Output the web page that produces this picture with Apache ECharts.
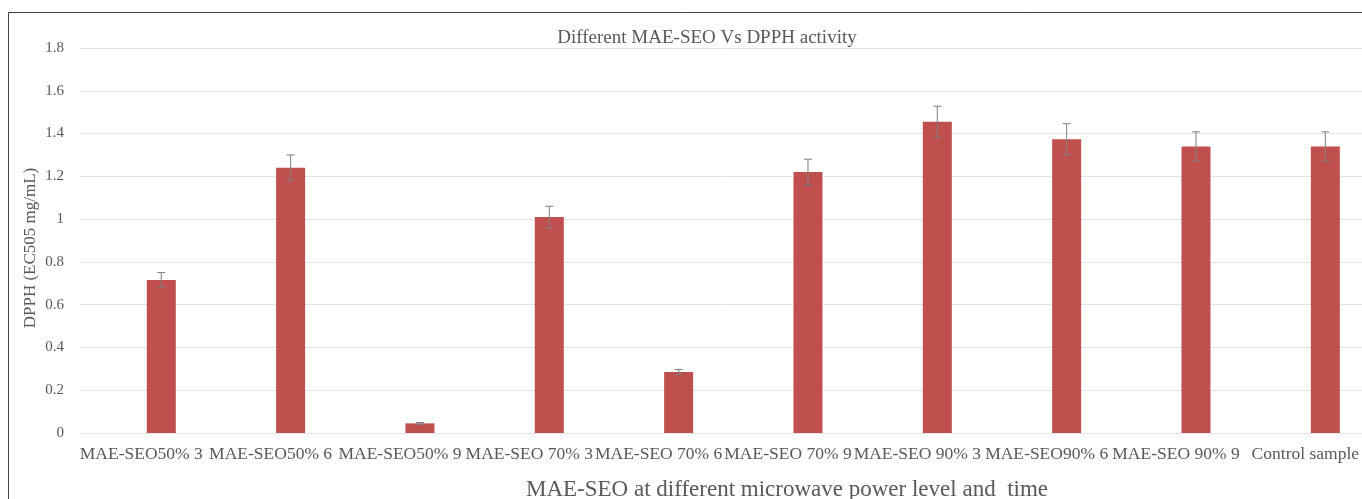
<!DOCTYPE html>
<html>
<head>
<meta charset="utf-8">
<script src="https://cdn.jsdelivr.net/npm/echarts@6/dist/echarts.min.js"></script>
<style>
  html, body { margin: 0; padding: 0; background: #ffffff; }
  #chart { width: 1362px; height: 499px; }
</style>
</head>
<body>
<div id="chart"></div>
<script>
// DPPH activity (EC50, mg/mL) for each extraction condition
const categories = [
  'MAE-SEO50% 3', 'MAE-SEO50% 6', 'MAE-SEO50% 9',
  'MAE-SEO 70% 3', 'MAE-SEO 70% 6', 'MAE-SEO 70% 9',
  'MAE-SEO 90% 3', 'MAE-SEO90% 6', 'MAE-SEO 90% 9', 'Control sample'
];
const dpphValues = [0.715, 1.24, 0.045, 1.01, 0.285, 1.22, 1.455, 1.373, 1.34, 1.34];
const dpphErrors = [0.035, 0.06, 0.004, 0.05, 0.012, 0.06, 0.073, 0.073, 0.068, 0.068];
const yTicks = { min: 0, max: 1.8, interval: 0.2 };

const titleText = 'Different MAE-SEO Vs DPPH activity';
const xTitle = 'MAE-SEO at different microwave power level and  time';
const yTitle = 'DPPH (EC505 mg/mL)';

const serif = '"Liberation Serif", "Times New Roman", serif';
const textGray = '#595959';

const errorData = dpphValues.map((v, i) => [i, v - dpphErrors[i], v + dpphErrors[i]]);

const chart = echarts.init(document.getElementById('chart'), null, { renderer: 'canvas' });

chart.setOption({
  backgroundColor: '#ffffff',
  animation: false,
  title: {
    text: titleText,
    left: 702,
    top: 24,
    textAlign: 'center',
    textStyle: { fontFamily: serif, fontSize: 19, fontWeight: 'normal', color: textGray }
  },
  grid: [
    // bars: the plot area runs past the right edge of the page
    { left: 96.6, width: 1293.4, top: 48, bottom: 66, containLabel: false, outerBoundsMode: 'none' },
    // horizontal gridlines and value labels
    { left: 80, width: 1320, top: 48, bottom: 66, containLabel: false, outerBoundsMode: 'none' }
  ],
  xAxis: [
    {
      type: 'category',
      gridIndex: 0,
      data: categories,
      axisLine: { show: false },
      axisTick: { show: false },
      axisLabel: {
        interval: 0,
        margin: 12,
        align: 'center',
        padding: [0, 40, 0, 0],
        fontFamily: serif,
        fontSize: 17.5,
        color: textGray
      }
    },
    {
      type: 'value',
      gridIndex: 1,
      show: false,
      min: 0,
      max: 1
    }
  ],
  yAxis: [
    {
      type: 'value',
      gridIndex: 0,
      min: yTicks.min,
      max: yTicks.max,
      interval: yTicks.interval,
      show: false,
      splitLine: { show: false }
    },
    {
      type: 'value',
      gridIndex: 1,
      min: yTicks.min,
      max: yTicks.max,
      interval: yTicks.interval,
      axisLine: { show: false },
      axisTick: { show: false },
      axisLabel: {
        margin: 16,
        fontFamily: serif,
        fontSize: 15,
        color: textGray,
        formatter: v => String(Math.round(v * 10) / 10)
      },
      splitLine: { show: true, lineStyle: { color: '#e3e3e3', width: 1 } }
    }
  ],
  series: [
    {
      type: 'bar',
      xAxisIndex: 0,
      yAxisIndex: 0,
      data: dpphValues,
      barWidth: 29,
      itemStyle: { color: '#C0504D' }
    },
    {
      type: 'custom',
      xAxisIndex: 0,
      yAxisIndex: 0,
      data: errorData,
      z: 5,
      renderItem: function (params, api) {
        const x = api.value(0);
        const low = api.coord([x, api.value(1)]);
        const high = api.coord([x, api.value(2)]);
        const half = 4;
        const style = { stroke: '#7f7f7f', lineWidth: 1 };
        return {
          type: 'group',
          children: [
            { type: 'line', shape: { x1: low[0], y1: low[1], x2: high[0], y2: high[1] }, style: style },
            { type: 'line', shape: { x1: high[0] - half, y1: high[1], x2: high[0] + half, y2: high[1] }, style: style },
            { type: 'line', shape: { x1: low[0] - half, y1: low[1], x2: low[0] + half, y2: low[1] }, style: style }
          ]
        };
      }
    }
  ],
  graphic: [
    {
      type: 'rect',
      shape: { x: 8.5, y: 12.5, width: 1400, height: 600 },
      style: { fill: 'none', stroke: '#404040', lineWidth: 1 },
      silent: true
    },
    {
      type: 'text',
      x: 787,
      y: 489.5,
      style: {
        text: xTitle,
        fontFamily: serif,
        fontSize: 23,
        fill: textGray,
        textAlign: 'center',
        textVerticalAlign: 'middle'
      }
    },
    {
      type: 'text',
      x: 31,
      y: 248,
      rotation: Math.PI / 2,
      style: {
        text: yTitle,
        fontFamily: serif,
        fontSize: 17,
        fill: textGray,
        textAlign: 'center',
        textVerticalAlign: 'middle'
      }
    }
  ]
});
</script>
</body>
</html>
